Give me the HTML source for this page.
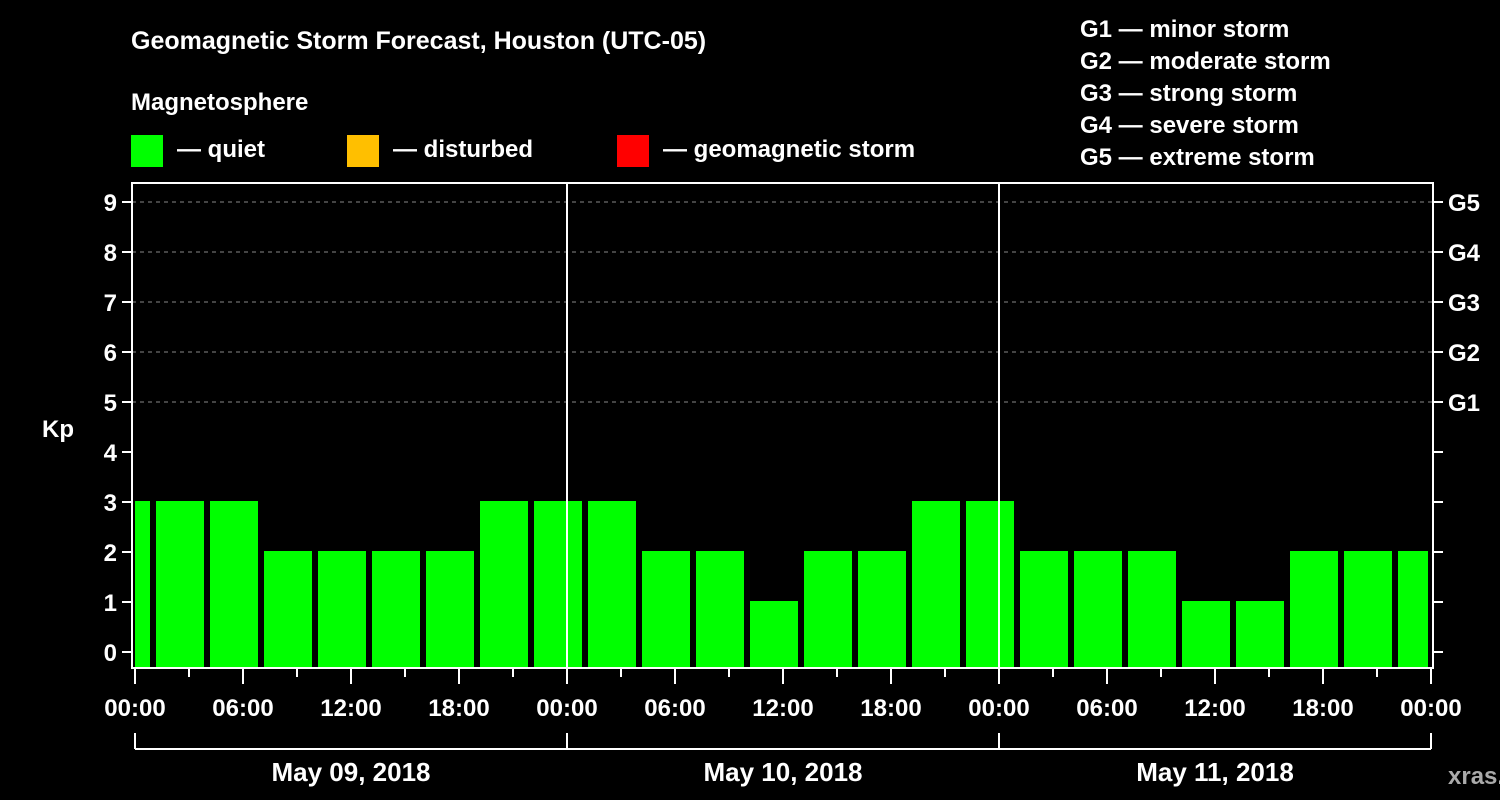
<!DOCTYPE html>
<html><head><meta charset="utf-8"><style>
html,body{margin:0;padding:0;background:#000;width:1500px;height:800px;overflow:hidden}
svg text{font-family:"Liberation Sans",Arial,sans-serif;font-weight:bold;fill:#fff}
</style></head><body>
<svg id="chart" width="1500" height="800" viewBox="0 0 1500 800">
<rect width="1500" height="800" fill="#000"/>
<text x="131" y="49" font-size="25">Geomagnetic Storm Forecast, Houston (UTC-05)</text>
<text x="131" y="110" font-size="24">Magnetosphere</text>
<g><rect x="131" y="135" width="32" height="32" fill="#00ff00"/><text x="177" y="157" font-size="24">— quiet</text></g>
<g><rect x="347" y="135" width="32" height="32" fill="#ffbf00"/><text x="393" y="157" font-size="24">— disturbed</text></g>
<g><rect x="617" y="135" width="32" height="32" fill="#ff0000"/><text x="663" y="157" font-size="24">— geomagnetic storm</text></g>
<g font-size="24">
<text x="1080" y="37">G1 — minor storm</text>
<text x="1080" y="69">G2 — moderate storm</text>
<text x="1080" y="101">G3 — strong storm</text>
<text x="1080" y="133">G4 — severe storm</text>
<text x="1080" y="165">G5 — extreme storm</text>
</g>
<g id="bars"></g>
<g id="axes"></g>
<text x="42" y="437" font-size="24">Kp</text>
<text x="1448" y="784" font-size="24" fill="#aaa" style="fill:#aaaaaa">xras.ru</text>
</svg>
<script>
const binStartHours=[-2,1,4,7,10,13,16,19,22,25,28,31,34,37,40,43,46,49,52,55,58,61,64,67,70];
const kpValues=[3,3,3,2,2,2,2,3,3,3,2,2,1,2,2,3,3,2,2,2,1,1,2,2,2];
const yTicks=[0,1,2,3,4,5,6,7,8,9];
const gLabels=["","","","","","G1","G2","G3","G4","G5"];
const xTickLabels=["00:00","06:00","12:00","18:00","00:00","06:00","12:00","18:00","00:00","06:00","12:00","18:00","00:00"];
const dayLabels=["May 09, 2018","May 10, 2018","May 11, 2018"];
const X0=135,PXH=18,HMAX=72,L=132,R=1433,T=183,B=668;
const xs=h=>X0+h*PXH;
const ys=v=>652-v*50;
const NS="http://www.w3.org/2000/svg";
function mk(tag,attrs,parent,txt){const e=document.createElementNS(NS,tag);for(const k in attrs)e.setAttribute(k,attrs[k]);if(txt!==undefined)e.textContent=txt;parent.appendChild(e);return e;}
const bars=document.getElementById('bars'),axes=document.getElementById('axes');
function color(v){return v>=5?'#ff0000':(v>=4?'#ffbf00':'#00ff00');}
binStartHours.forEach((h,i)=>{
 let x1=Math.max(xs(h)+3,X0),x2=Math.min(xs(h+3)-3,xs(HMAX)-3);
 const r=mk('rect',{x:x1,y:ys(kpValues[i])-1,width:x2-x1,height:B-1-(ys(kpValues[i])-1),fill:color(kpValues[i])},bars);
 
 
});
yTicks.forEach((v,i)=>{
 const y=ys(v);
 if(v>=5){const g=mk('line',{x1:L,x2:R,y1:y,y2:y,stroke:'#888','stroke-dasharray':'4,4','stroke-width':1},axes);
 
 }
 mk('line',{x1:L-10,x2:L,y1:y,y2:y,stroke:'#fff','stroke-width':2},axes);
 mk('line',{x1:R,x2:R+10,y1:y,y2:y,stroke:'#fff','stroke-width':2},axes);
 const t=mk('text',{x:L-15,y:y+9,'font-size':24,'text-anchor':'end'},axes,String(v));
 
 
 if(gLabels[i]){const g=mk('text',{x:1448,y:y+9,'font-size':24},axes,gLabels[i]);
 
 }
});
mk('rect',{x:L,y:T,width:R-L,height:B-T,fill:'none',stroke:'#fff','stroke-width':2},axes);
[24,48].forEach(h=>mk('line',{x1:xs(h),x2:xs(h),y1:T,y2:B,stroke:'#fff','stroke-width':2},axes));
for(let h=0;h<=HMAX;h+=3){const long=h%6===0;mk('line',{x1:xs(h),x2:xs(h),y1:B,y2:B+(long?16:9),stroke:'#fff','stroke-width':2},axes);}
xTickLabels.forEach((s,i)=>{const t=mk('text',{x:xs(i*6),y:716,'font-size':24,'text-anchor':'middle'},axes,s);
 
 });
mk('line',{x1:xs(0),x2:xs(HMAX),y1:749,y2:749,stroke:'#fff','stroke-width':2},axes);
for(let d=0;d<=3;d++)mk('line',{x1:xs(d*24),x2:xs(d*24),y1:733,y2:749,stroke:'#fff','stroke-width':2},axes);
dayLabels.forEach((s,i)=>{const t=mk('text',{x:xs(i*24+12),y:781,'font-size':26,'text-anchor':'middle'},axes,s);
 
 });
</script>
</body></html>
